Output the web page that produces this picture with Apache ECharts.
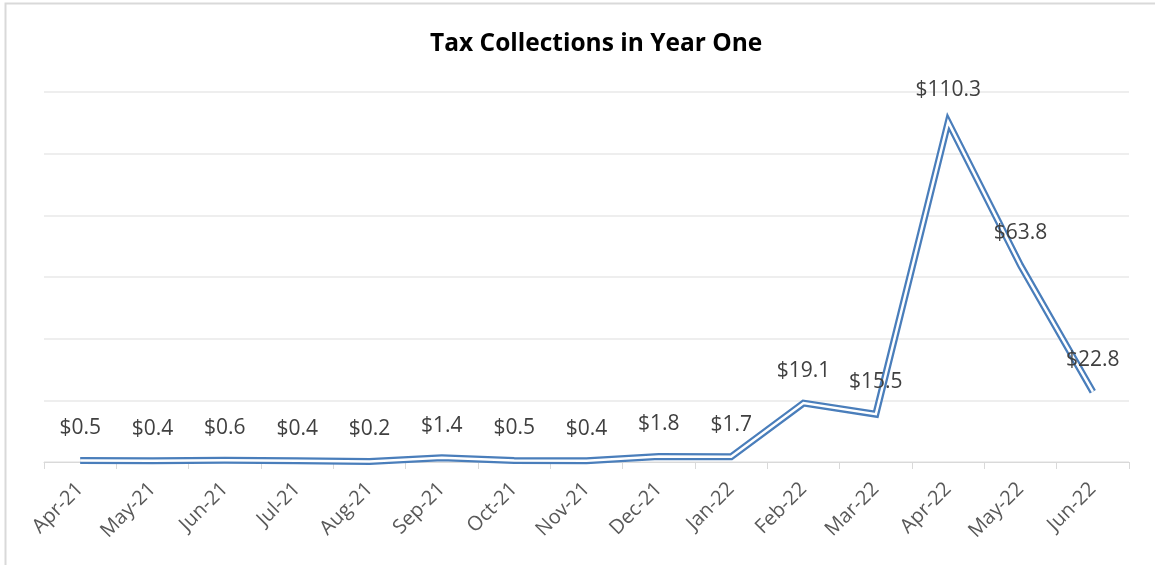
<!DOCTYPE html>
<html>
<head>
<meta charset="utf-8">
<script src="https://cdn.jsdelivr.net/npm/echarts@6/dist/echarts.min.js"></script>
<style>
html,body{margin:0;padding:0;background:#fff;}
#chart{width:1155px;height:565px;}
</style>
</head>
<body>
<div id="chart"></div>
<script>
const titleText = "Tax Collections in Year One";
const categories = ["Apr-21","May-21","Jun-21","Jul-21","Aug-21","Sep-21","Oct-21","Nov-21","Dec-21","Jan-22","Feb-22","Mar-22","Apr-22","May-22","Jun-22"];
const collections = [0.5,0.4,0.6,0.4,0.2,1.4,0.5,0.4,1.8,1.7,19.1,15.5,110.3,63.8,22.8];

const chart = echarts.init(document.getElementById('chart'), null, {renderer:'canvas'});
const lineBlue = '#4a7ebb';
chart.setOption({
  backgroundColor:'#ffffff',
  animation:false,
  title:{
    text:titleText, left:425, top:27,
    textStyle:{fontFamily:'Open Sans', fontWeight:'bold', fontSize:24.5, color:'#000000'}
  },
  graphic:[{
    type:'rect', shape:{x:5.5,y:3.5,width:1200,height:600},
    style:{fill:'none', stroke:'#d9d9d9', lineWidth:2}, silent:true
  }],
  grid:{left:44, right:26, top:92, bottom:103},
  xAxis:{
    type:'category', data:categories, boundaryGap:true,
    axisLine:{lineStyle:{color:'#d9d9d9', width:1}},
    axisTick:{show:true, alignWithLabel:false, length:7, lineStyle:{color:'#d9d9d9'}},
    axisLabel:{rotate:45, fontFamily:'Open Sans', fontSize:20, color:'#595959', margin:24, interval:0}
  },
  yAxis:{
    type:'value', min:0, max:120, interval:20,
    axisLabel:{show:false}, axisLine:{show:false}, axisTick:{show:false},
    splitLine:{lineStyle:{color:'#eeeeee', width:2}}
  },
  series:[
    {
      type:'line', data:collections, symbol:'none', smooth:false,
      lineStyle:{color:lineBlue, width:7, join:'miter'}, z:2, silent:true
    },
    {
      type:'line', data:collections, symbol:'circle', symbolSize:1, showSymbol:true,
      itemStyle:{color:'#ffffff'},
      lineStyle:{color:'#ffffff', width:2.5, join:'miter'}, z:3, silent:true,
      label:{
        show:true, position:'top', distance:21,
        fontFamily:'Open Sans', fontSize:21, color:'#404040',
        formatter:p => '$' + p.value.toFixed(1)
      }
    }
  ]
});
</script>
</body>
</html>
